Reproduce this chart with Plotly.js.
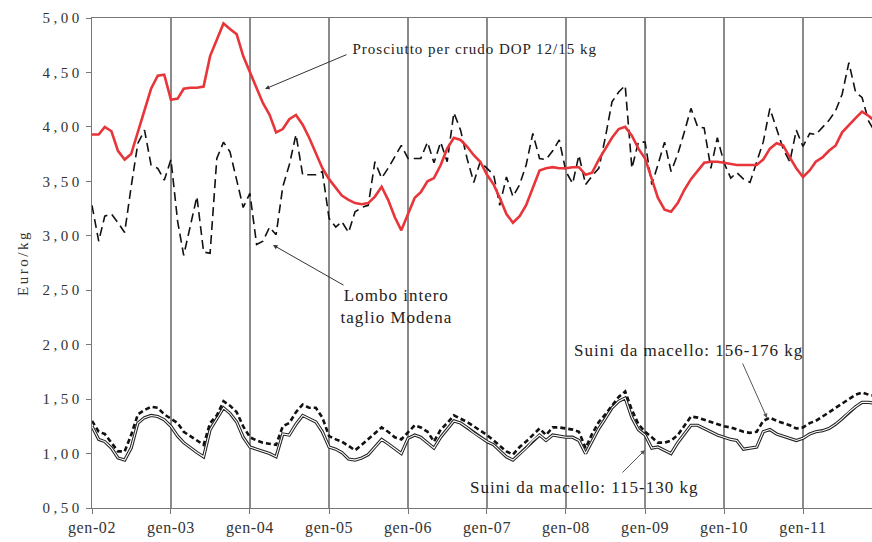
<!DOCTYPE html>
<html>
<head>
<meta charset="utf-8">
<script src="https://cdn.plot.ly/plotly-3.0.1.min.js"></script>
<style>
html,body{margin:0;padding:0;background:#fff;}
#chart{width:872px;height:542px;}
#chart .ytick text{letter-spacing:3.5px;}
#chart .xtick text{letter-spacing:0.6px;}
#chart .ytitle{letter-spacing:2.5px;}
#chart .annotation-text{letter-spacing:1px;}
</style>
</head>
<body>
<div id="chart"></div>
<script>
// Monthly series, Jan 2002 onward (Euro/kg)
var prosciutto = [3.93,3.93,4.00,3.96,3.78,3.70,3.75,3.95,4.15,4.35,4.47,4.48,
  4.25,4.26,4.35,4.36,4.36,4.37,4.65,4.80,4.95,4.90,4.85,4.65,
  4.50,4.35,4.22,4.11,3.95,3.98,4.07,4.11,4.02,3.90,3.75,3.62,
  3.52,3.44,3.37,3.33,3.30,3.29,3.30,3.36,3.45,3.33,3.17,3.05,
  3.20,3.35,3.40,3.50,3.53,3.65,3.80,3.90,3.88,3.82,3.74,3.68,
  3.56,3.47,3.35,3.20,3.12,3.18,3.28,3.45,3.60,3.62,3.63,3.62,
  3.62,3.63,3.63,3.56,3.58,3.70,3.80,3.90,3.98,4.00,3.92,3.80,
  3.71,3.52,3.35,3.24,3.22,3.30,3.42,3.52,3.60,3.67,3.68,3.68,
  3.67,3.66,3.65,3.65,3.65,3.65,3.70,3.80,3.85,3.83,3.72,3.62,
  3.54,3.60,3.68,3.72,3.78,3.83,3.95,4.02,4.08,4.14,4.10,4.05];
var lombo = [3.28,2.95,3.18,3.20,3.12,3.03,3.45,3.85,3.97,3.65,3.62,3.51,
  3.70,3.13,2.82,3.10,3.36,2.85,2.84,3.71,3.86,3.77,3.50,3.26,
  3.39,2.92,2.95,3.08,3.01,3.45,3.65,3.93,3.56,3.56,3.56,3.59,
  3.16,3.08,3.13,3.03,3.22,3.26,3.28,3.68,3.53,3.62,3.73,3.83,
  3.71,3.71,3.71,3.86,3.67,3.86,3.68,4.13,3.97,3.71,3.49,3.68,
  3.62,3.56,3.28,3.54,3.36,3.47,3.65,3.94,3.71,3.70,3.78,3.88,
  3.59,3.48,3.74,3.47,3.55,3.62,3.90,4.23,4.32,4.38,3.62,3.86,
  3.86,3.47,3.65,3.86,3.59,3.75,3.95,4.17,4.00,3.99,3.62,3.90,
  3.67,3.53,3.58,3.52,3.49,3.68,3.86,4.17,3.99,3.80,3.68,3.97,
  3.82,3.94,3.93,4.00,4.06,4.15,4.30,4.59,4.32,4.27,4.05,3.95];
var suini156 = [1.30,1.20,1.18,1.10,1.02,1.02,1.17,1.36,1.40,1.43,1.42,1.36,
  1.32,1.28,1.20,1.16,1.12,1.08,1.28,1.35,1.48,1.44,1.38,1.25,
  1.15,1.12,1.10,1.09,1.08,1.25,1.28,1.38,1.45,1.42,1.42,1.33,
  1.16,1.13,1.11,1.07,1.03,1.08,1.13,1.19,1.24,1.20,1.15,1.13,
  1.20,1.26,1.24,1.20,1.11,1.22,1.28,1.35,1.32,1.29,1.25,1.21,
  1.17,1.12,1.07,1.02,0.99,1.06,1.11,1.17,1.23,1.17,1.24,1.24,
  1.23,1.22,1.20,1.05,1.18,1.29,1.36,1.44,1.52,1.57,1.40,1.27,
  1.20,1.15,1.10,1.10,1.12,1.17,1.25,1.34,1.33,1.31,1.29,1.27,
  1.25,1.24,1.22,1.20,1.19,1.20,1.30,1.33,1.30,1.28,1.26,1.23,
  1.24,1.28,1.30,1.34,1.38,1.42,1.46,1.50,1.54,1.56,1.54,1.53];
var suini115 = [1.25,1.13,1.11,1.05,0.96,0.94,1.05,1.28,1.33,1.35,1.34,1.31,
  1.25,1.16,1.10,1.05,1.01,0.97,1.22,1.32,1.42,1.37,1.29,1.15,
  1.06,1.04,1.02,1.00,0.97,1.18,1.17,1.27,1.35,1.32,1.29,1.20,
  1.06,1.04,1.01,0.95,0.94,0.96,0.99,1.06,1.13,1.09,1.04,1.00,
  1.14,1.17,1.15,1.10,1.05,1.15,1.22,1.30,1.28,1.24,1.19,1.15,
  1.11,1.08,1.03,0.97,0.94,1.00,1.05,1.12,1.17,1.12,1.17,1.16,
  1.15,1.15,1.12,1.00,1.12,1.23,1.32,1.42,1.48,1.51,1.33,1.22,
  1.17,1.05,1.06,1.03,1.00,1.10,1.18,1.26,1.26,1.23,1.20,1.17,
  1.15,1.13,1.12,1.04,1.05,1.06,1.20,1.22,1.18,1.16,1.14,1.12,
  1.14,1.18,1.20,1.21,1.23,1.27,1.32,1.38,1.43,1.47,1.47,1.46];
var yearTicks = ['2002-01-01','2003-01-01','2004-01-01','2005-01-01','2006-01-01',
  '2007-01-01','2008-01-01','2009-01-01','2010-01-01','2011-01-01'];
var yearLabels = ['gen-02','gen-03','gen-04','gen-05','gen-06','gen-07','gen-08','gen-09','gen-10','gen-11'];

var months = [];
for (var i = 0; i < prosciutto.length; i++) {
  var y = 2002 + Math.floor(i / 12), m = (i % 12) + 1;
  months.push(y + '-' + (m < 10 ? '0' + m : m) + '-01');
}

var serif = 'Liberation Serif, Times New Roman, serif';
var traces = [
  {x: months, y: suini115, mode: 'lines', line: {color: '#222', width: 3.2}, hoverinfo: 'skip'},
  {x: months, y: suini115, mode: 'lines', line: {color: '#ffffff', width: 1.1}, hoverinfo: 'skip'},
  {x: months, y: suini156, mode: 'lines', line: {color: '#111', width: 2.6, dash: '5px,3px'}},
  {x: months, y: lombo, mode: 'lines', line: {color: '#111', width: 1.6, dash: '9px,5px'}},
  {x: months, y: prosciutto, mode: 'lines', line: {color: '#e8353a', width: 2.6}}
];

function px(x) { return (x - 92) / 780; }
function py(y) { return (508 - y) / 490; }
var txt = '#222';
var layout = {
  width: 872, height: 542,
  margin: {l: 92, r: 0, t: 18, b: 34},
  paper_bgcolor: '#ffffff', plot_bgcolor: '#ffffff',
  showlegend: false,
  separators: ',.',
  font: {family: serif, size: 14, color: '#333'},
  xaxis: {
    type: 'date',
    range: ['2002-01-01', '2011-11-16'],
    tickvals: yearTicks, ticktext: yearLabels,
    showgrid: true, gridcolor: '#8a8a8a', gridwidth: 1.3,
    showline: true, linecolor: '#777', linewidth: 1.2, mirror: true,
    ticks: 'outside', ticklen: 5, tickcolor: '#777',
    tickfont: {family: serif, size: 16, color: '#333'},
    zeroline: false
  },
  yaxis: {
    range: [0.5, 5.0],
    tickvals: [0.5,1,1.5,2,2.5,3,3.5,4,4.5,5],
    tickformat: '.2f',
    showgrid: false,
    showline: true, linecolor: '#777', linewidth: 1.2,
    ticks: 'outside', ticklen: 5, tickcolor: '#777',
    tickfont: {family: serif, size: 15, color: '#333'},
    title: {text: 'Euro/kg', font: {family: serif, size: 15, color: '#333'}, standoff: 24},
    zeroline: false
  },
  annotations: [
    {xref: 'paper', yref: 'paper', x: px(367), y: py(49), xanchor: 'left', yanchor: 'middle',
     text: 'Prosciutto per crudo DOP 12/15 kg', showarrow: false, font: {family: serif, size: 15, color: txt}},
    {xref: 'paper', yref: 'paper', x: px(396), y: py(306), xanchor: 'center', yanchor: 'middle',
     text: 'Lombo intero<br>taglio Modena', showarrow: false, font: {family: serif, size: 17, color: txt}},
    {xref: 'paper', yref: 'paper', x: px(586), y: py(350), xanchor: 'left', yanchor: 'middle',
     text: 'Suini da macello: 156-176 kg', showarrow: false, font: {family: serif, size: 17, color: txt}},
    {xref: 'paper', yref: 'paper', x: px(482), y: py(487), xanchor: 'left', yanchor: 'middle',
     text: 'Suini da macello: 115-130 kg', showarrow: false, font: {family: serif, size: 17, color: txt}},
    // arrows
    {xref: 'paper', yref: 'paper', x: px(265), y: py(89), ax: px(348), ay: py(54),
     axref: 'paper', ayref: 'paper', text: '', showarrow: true, arrowhead: 2, arrowsize: 0.9, arrowwidth: 1, arrowcolor: '#333'},
    {xref: 'paper', yref: 'paper', x: px(273), y: py(245), ax: px(345), ay: py(286),
     axref: 'paper', ayref: 'paper', text: '', showarrow: true, arrowhead: 2, arrowsize: 0.9, arrowwidth: 1, arrowcolor: '#333'},
    {xref: 'paper', yref: 'paper', x: px(767), y: py(418), ax: px(742), ay: py(362),
     axref: 'paper', ayref: 'paper', text: '', showarrow: true, arrowhead: 2, arrowsize: 0.9, arrowwidth: 1, arrowcolor: '#555'},
    {xref: 'paper', yref: 'paper', x: px(645), y: py(450), ax: px(621), ay: py(474),
     axref: 'paper', ayref: 'paper', text: '', showarrow: true, arrowhead: 2, arrowsize: 0.9, arrowwidth: 1, arrowcolor: '#555'}
  ]
};

Plotly.newPlot('chart', traces, layout, {displayModeBar: false, staticPlot: true});
</script>
</body>
</html>
